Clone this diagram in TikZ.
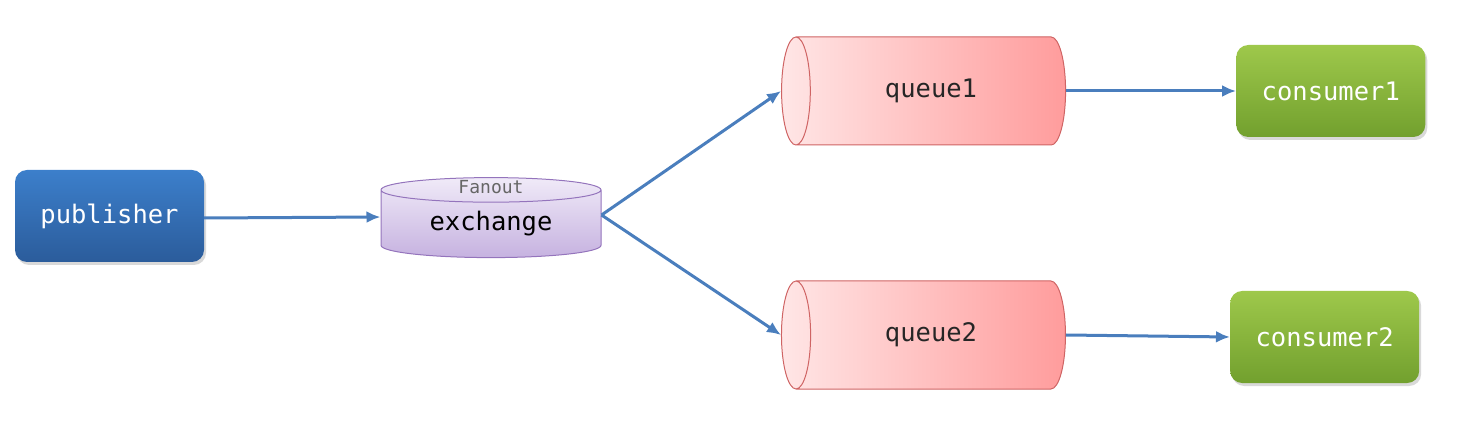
\documentclass[tikz,border=0pt]{standalone}
\usepackage{fontspec}
\setmonofont{DejaVu Sans Mono}
\usetikzlibrary{arrows.meta,positioning,shapes.geometric,shadows}
\definecolor{pubtop}{HTML}{3C7FCB}
\definecolor{pubbot}{HTML}{2B5C9B}
\definecolor{contop}{HTML}{9EC84B}
\definecolor{conbot}{HTML}{72A02E}
\definecolor{exctop}{HTML}{F0EAF8}
\definecolor{excbot}{HTML}{C6B2E0}
\definecolor{excline}{HTML}{9474BC}
\definecolor{quleft}{HTML}{FFE6E6}
\definecolor{quright}{HTML}{FF9C9C}
\definecolor{quline}{HTML}{CF6464}
\definecolor{arrowblue}{HTML}{4A7EBD}

\begin{document}
\begin{tikzpicture}[
    x=1pt, y=1pt,
    font=\ttfamily\fontsize{25.5}{30}\selectfont,
    node distance=170pt,
    endbox/.style={rounded corners=12pt, align=center, minimum width=189pt, minimum height=92pt, text=white, drop shadow={shadow xshift=2pt, shadow yshift=-3pt, opacity=0.3}},
    pubbox/.style={endbox, top color=pubtop, bottom color=pubbot},
    conbox/.style={endbox, top color=contop, bottom color=conbot},
    exchbox/.style={cylinder, shape border rotate=90, aspect=0.2, minimum width=220pt, minimum height=80pt, inner sep=0pt, top color=exctop, bottom color=excbot, draw=excline, line width=1pt},
    queuebox/.style={cylinder, shape border rotate=180, aspect=1.2, minimum width=108pt, minimum height=284pt, inner sep=0pt, left color=quleft, right color=quright, draw=quline, line width=1pt, text=black!85},
    tag/.style={font=\ttfamily\fontsize{18}{20}\selectfont, text=black!60},
    arrow/.style={-{Latex[length=14pt, width=12pt]}, line width=3pt, draw=arrowblue}
]
\useasboundingbox (0,0) rectangle (1461,-427);

\node[pubbox] (pub) at (109.5,-216) {publisher};
\node[exchbox] (ex) at (491,-224) {exchange};
\node[tag] (extag) at ([yshift=-10pt]ex.north) {Fanout};
\node[queuebox] (q1) at (931,-91) {queue1};
\node[queuebox] (q2) at (931,-335) {queue2};
\node[conbox, right=of q1] (c1) {consumer1};
\node[conbox, right=164pt of q2, yshift=-2pt] (c2) {consumer2};

\draw[arrow] ([yshift=-2pt]pub.east) -- ([yshift=7pt]ex.west);
\draw[arrow] ([yshift=9pt]ex.east) -- (q1.west);
\draw[arrow] ([yshift=9pt]ex.east) -- (q2.west);
\draw[arrow] (q1) -- (c1);
\draw[arrow] (q2.east) -- (c2.west);
\end{tikzpicture}
\end{document}
